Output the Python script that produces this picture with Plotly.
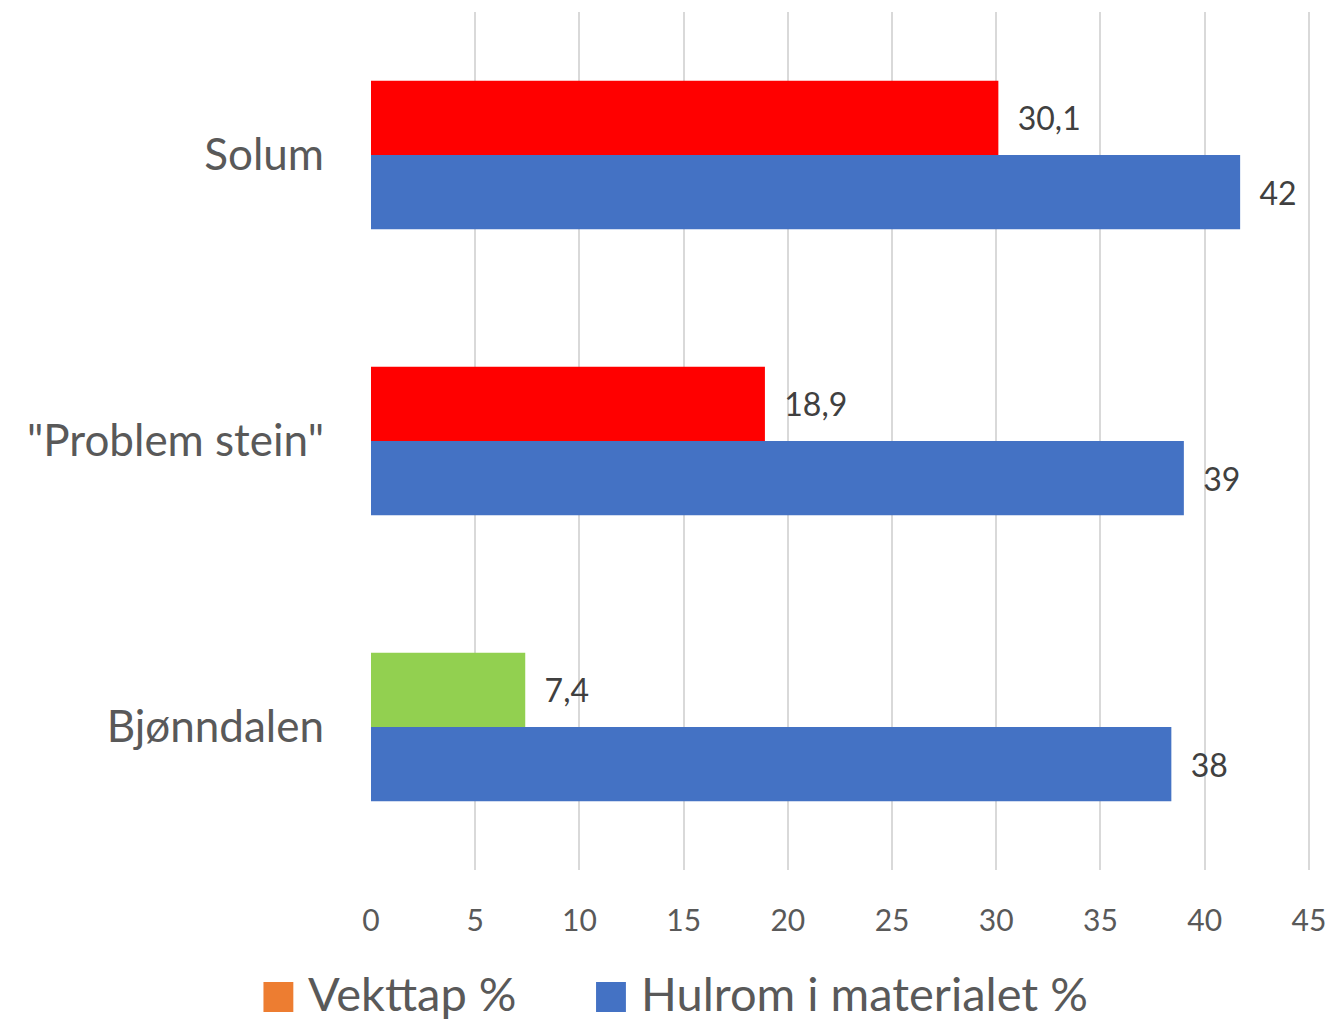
import plotly.graph_objects as go

categories = ["Solum", "\"Problem stein\"", "Bjønndalen"]
vekttap = [30.1, 18.9, 7.4]
vekttap_labels = ["30,1", "18,9", "7,4"]
vekttap_colors = ["#FF0000", "#FF0000", "#92D050"]
hulrom = [41.7, 39.0, 38.4]
hulrom_labels = ["42", "39", "38"]
x_ticks = [0, 5, 10, 15, 20, 25, 30, 35, 40, 45]
series_names = ["Vekttap %", "Hulrom i materialet %"]
legend_colors = ["#ED7D31", "#4472C4"]

FONT = "Lato, Open Sans, sans-serif"
pad = "\u00a0\u00a0"

W, H = 1338, 1021
L, R, T, B = 371, 23, 12, 151
PW, PH = W - L - R, H - T - B


def px(x):
    return (x - L) / PW


def py(y):
    return (H - B - y) / PH


fig = go.Figure()
fig.add_trace(go.Bar(
    y=categories, x=vekttap, orientation="h", name=series_names[0],
    marker=dict(color=vekttap_colors, line=dict(width=0)),
    text=[pad + t for t in vekttap_labels], textposition="outside",
    textfont=dict(size=32, color="#404040", family=FONT),
    showlegend=False, cliponaxis=False,
))
fig.add_trace(go.Bar(
    y=categories, x=hulrom, orientation="h", name=series_names[1],
    marker=dict(color=legend_colors[1], line=dict(width=0)),
    text=[pad + t for t in hulrom_labels], textposition="outside",
    textfont=dict(size=32, color="#404040", family=FONT),
    showlegend=False, cliponaxis=False,
))

# Manual legend (large square swatches like the original)
legend_sq_x = [263, 597]
for i, (name, col) in enumerate(zip(series_names, legend_colors)):
    fig.add_shape(type="rect", xref="paper", yref="paper",
                  x0=px(legend_sq_x[i]), x1=px(legend_sq_x[i] + 30),
                  y0=py(1012), y1=py(982),
                  fillcolor=col, line=dict(width=0))
    fig.add_annotation(xref="paper", yref="paper", x=px(legend_sq_x[i] + 43),
                       y=py(993), text=name, showarrow=False,
                       xanchor="left", yanchor="middle",
                       font=dict(size=47, color="#595959", family=FONT))

fig.update_layout(
    width=W, height=H,
    margin=dict(l=L, r=R, t=T, b=B),
    paper_bgcolor="white", plot_bgcolor="white",
    barmode="group", bargap=0.48, bargroupgap=0,
    font=dict(family=FONT, color="#595959"),
    xaxis=dict(range=[0, 45.1], tickvals=x_ticks, showgrid=True,
               gridcolor="#D9D9D9", gridwidth=1.5, zeroline=False,
               showline=False, ticks="", tickfont=dict(size=30, color="#595959"),
               ticklabelstandoff=30, ticklabeloverflow="allow"),
    yaxis=dict(autorange="reversed", showgrid=False, showline=False, ticks="",
               tickfont=dict(size=44, color="#595959"), ticklabelstandoff=46),
)

fig.write_html(
    "out.html",
    config={"displayModeBar": False},
    post_script="document.body.style.margin='0';document.body.style.overflow='hidden';",
)
